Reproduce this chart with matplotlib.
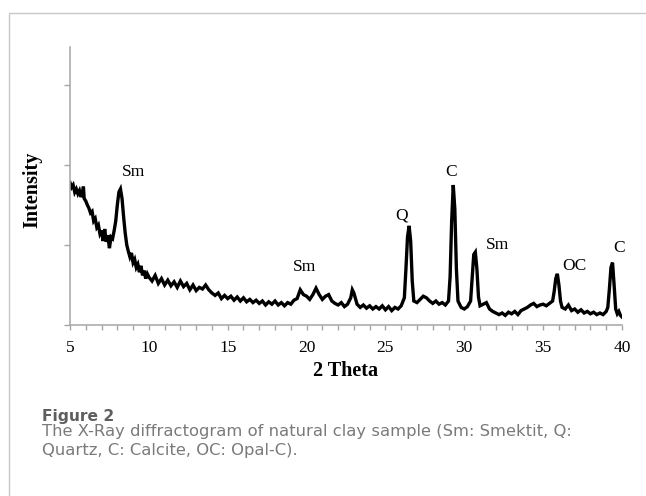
import matplotlib
matplotlib.use('Agg')
import matplotlib.pyplot as plt
from matplotlib.patches import Rectangle

# XRD pattern of natural clay
two_theta = [5.0, 5.1, 5.2, 5.3, 5.4, 5.5, 5.6, 5.7, 5.8, 5.85, 5.9, 6.0, 6.1, 6.2, 6.3, 6.4,
             6.5, 6.6, 6.7, 6.8, 6.9, 7.0, 7.1, 7.2, 7.3, 7.4, 7.5, 7.6, 7.7, 7.8, 7.9,
             8.0, 8.1, 8.2, 8.3, 8.4, 8.5, 8.6, 8.7, 8.8, 8.9, 9.0, 9.1, 9.2, 9.3, 9.4,
             9.5, 9.6, 9.7, 9.8, 9.9, 10.0, 10.2, 10.4, 10.6, 10.8, 11.0, 11.2, 11.4,
             11.6, 11.8, 12.0, 12.2, 12.4, 12.6, 12.8, 13.0, 13.2, 13.4, 13.6, 13.8,
             14.0, 14.2, 14.4, 14.6, 14.8, 15.0, 15.2, 15.4, 15.6, 15.8, 16.0, 16.2,
             16.4, 16.6, 16.8, 17.0, 17.2, 17.4, 17.6, 17.8, 18.0, 18.2, 18.4, 18.6,
             18.8, 19.0, 19.2, 19.4, 19.6, 19.8, 20.0, 20.2, 20.4, 20.6, 20.8, 21.0,
             21.2, 21.4, 21.6, 21.8, 22.0, 22.2, 22.4, 22.6, 22.8, 22.9, 23.0, 23.2,
             23.4, 23.6, 23.8, 24.0, 24.2, 24.4, 24.6, 24.8, 25.0, 25.2, 25.4, 25.6,
             25.8, 26.0, 26.2, 26.3, 26.4, 26.5, 26.6, 26.7, 26.8, 27.0, 27.2, 27.4,
             27.6, 27.8, 28.0, 28.2, 28.4, 28.6, 28.8, 29.0, 29.1, 29.2, 29.3, 29.4,
             29.5, 29.6, 29.8, 30.0, 30.2, 30.4, 30.5, 30.6, 30.7, 30.8, 30.9, 31.0,
             31.2, 31.4, 31.6, 31.8, 32.0, 32.2, 32.4, 32.6, 32.8, 33.0, 33.2, 33.4,
             33.6, 33.8, 34.0, 34.2, 34.4, 34.6, 34.8, 35.0, 35.2, 35.4, 35.6, 35.7,
             35.8, 35.9, 36.0, 36.1, 36.2, 36.4, 36.6, 36.8, 37.0, 37.2, 37.4, 37.6,
             37.8, 38.0, 38.2, 38.4, 38.6, 38.8, 39.0, 39.1, 39.2, 39.3, 39.4, 39.5,
             39.6, 39.7, 39.8, 39.9, 40.0]
intensity = [1.78, 1.72, 1.75, 1.66, 1.70, 1.64, 1.68, 1.60, 1.66, 1.73, 1.58, 1.55, 1.50, 1.46, 1.40, 1.42,
             1.30, 1.33, 1.22, 1.25, 1.14, 1.18, 1.05, 1.20, 1.04, 1.12, 0.96, 1.10, 1.08, 1.18, 1.30,
             1.50, 1.66, 1.70, 1.58, 1.35, 1.15, 1.00, 0.92, 0.85, 0.90, 0.78, 0.82, 0.72, 0.76, 0.66,
             0.74, 0.62, 0.68, 0.58, 0.64, 0.60, 0.55, 0.62, 0.52, 0.58, 0.50, 0.56, 0.49,
             0.54, 0.47, 0.55, 0.48, 0.52, 0.44, 0.50, 0.43, 0.47, 0.45, 0.50, 0.44,
             0.40, 0.37, 0.40, 0.33, 0.37, 0.33, 0.36, 0.31, 0.35, 0.30, 0.34, 0.29,
             0.32, 0.28, 0.31, 0.27, 0.30, 0.25, 0.29, 0.26, 0.30, 0.25, 0.28, 0.24,
             0.28, 0.26, 0.31, 0.33, 0.44, 0.38, 0.36, 0.32, 0.38, 0.46, 0.38, 0.32,
             0.36, 0.38, 0.30, 0.27, 0.25, 0.28, 0.23, 0.26, 0.34, 0.44, 0.40, 0.26,
             0.22, 0.25, 0.21, 0.24, 0.20, 0.23, 0.20, 0.24, 0.19, 0.23, 0.18, 0.22,
             0.20, 0.24, 0.34, 0.70, 1.10, 1.24, 1.05, 0.55, 0.30, 0.28, 0.32, 0.36,
             0.34, 0.30, 0.27, 0.30, 0.26, 0.28, 0.25, 0.30, 0.60, 1.30, 1.75, 1.45,
             0.70, 0.30, 0.22, 0.20, 0.23, 0.30, 0.60, 0.88, 0.91, 0.70, 0.35, 0.24,
             0.26, 0.28, 0.20, 0.17, 0.15, 0.13, 0.15, 0.12, 0.16, 0.14, 0.17, 0.13,
             0.18, 0.20, 0.22, 0.25, 0.27, 0.23, 0.25, 0.26, 0.24, 0.27, 0.30, 0.42,
             0.58, 0.64, 0.50, 0.30, 0.22, 0.20, 0.25, 0.18, 0.20, 0.16, 0.19, 0.15,
             0.17, 0.14, 0.16, 0.13, 0.15, 0.13, 0.17, 0.22, 0.45, 0.72, 0.78, 0.50,
             0.20, 0.14, 0.17, 0.12, 0.10]

# phase labels and where they sit
peak_labels = ['Sm', 'Sm', 'Q', 'C', 'Sm', 'OC', 'C']
label_x = [9.0, 19.9, 26.05, 29.15, 32.1, 37.0, 39.8]
label_y = [1.91, 0.73, 1.375, 1.91, 1.0, 0.74, 0.96]

x_ticks = [5, 10, 15, 20, 25, 30, 35, 40]
caption_title = 'Figure 2'
caption_lines = ['The X-Ray diffractogram of natural clay sample (Sm: Smektit, Q:',
                 'Quartz, C: Calcite, OC: Opal-C).']

serif = 'Liberation Serif'
axis_grey = '#a6a6a6'

fig = plt.figure(figsize=(6.46, 4.96), dpi=100)

# card outline (left and top edges only visible)
fig.add_artist(Rectangle((9 / 646, -0.5), 2.0, 0.5 + (496 - 13) / 496,
                         transform=fig.transFigure, fill=False,
                         edgecolor='#c8c8c8', linewidth=1.0))

ax = fig.add_axes([70 / 646, (496 - 325) / 496, 552 / 646, 278 / 496])
ax.plot(two_theta, intensity, color='black', linewidth=2.4, solid_joinstyle='miter')

for txt, lx, ly in zip(peak_labels, label_x, label_y):
    ax.text(lx, ly, txt, ha='center', va='center', fontsize=12.5, family=serif)

ax.set_xlim(5, 40)
ax.set_ylim(0, 3.475)
ax.set_xticks(x_ticks)
ax.set_xticks(range(5, 41), minor=True)
ax.set_yticks([0, 1, 2, 3])
ax.set_yticklabels([])
for lab in ax.get_xticklabels():
    lab.set_fontfamily(serif)
    lab.set_fontsize(12.5)

for side in ['top', 'right']:
    ax.spines[side].set_visible(False)
for side in ['left', 'bottom']:
    ax.spines[side].set_color(axis_grey)
    ax.spines[side].set_linewidth(1.1)
ax.tick_params(axis='x', which='both', direction='out', length=3.5, width=1.0,
               color=axis_grey, pad=7.2)
ax.tick_params(axis='y', direction='out', length=4.5, width=1.0, color=axis_grey)

ax.set_xlabel('2 Theta', fontsize=14.5, fontweight='bold', family=serif, labelpad=3.5)
ax.set_ylabel('Intensity', fontsize=14.5, fontweight='bold', family=serif, labelpad=6)
ax.yaxis.set_label_coords(-28 / 552, (496 - 190 - 171) / 278)

fig.text(42 / 646, 1 - 421 / 496, caption_title, fontsize=11.2, fontweight='bold',
         family='DejaVu Sans', color='#5f5f5f', va='baseline')
for i, line in enumerate(caption_lines):
    fig.text(42 / 646, 1 - (436 + 19.5 * i) / 496, line, fontsize=11.8,
             family='DejaVu Sans', color='#7a7a7a', va='baseline')

fig.savefig('out.png', dpi=100)
